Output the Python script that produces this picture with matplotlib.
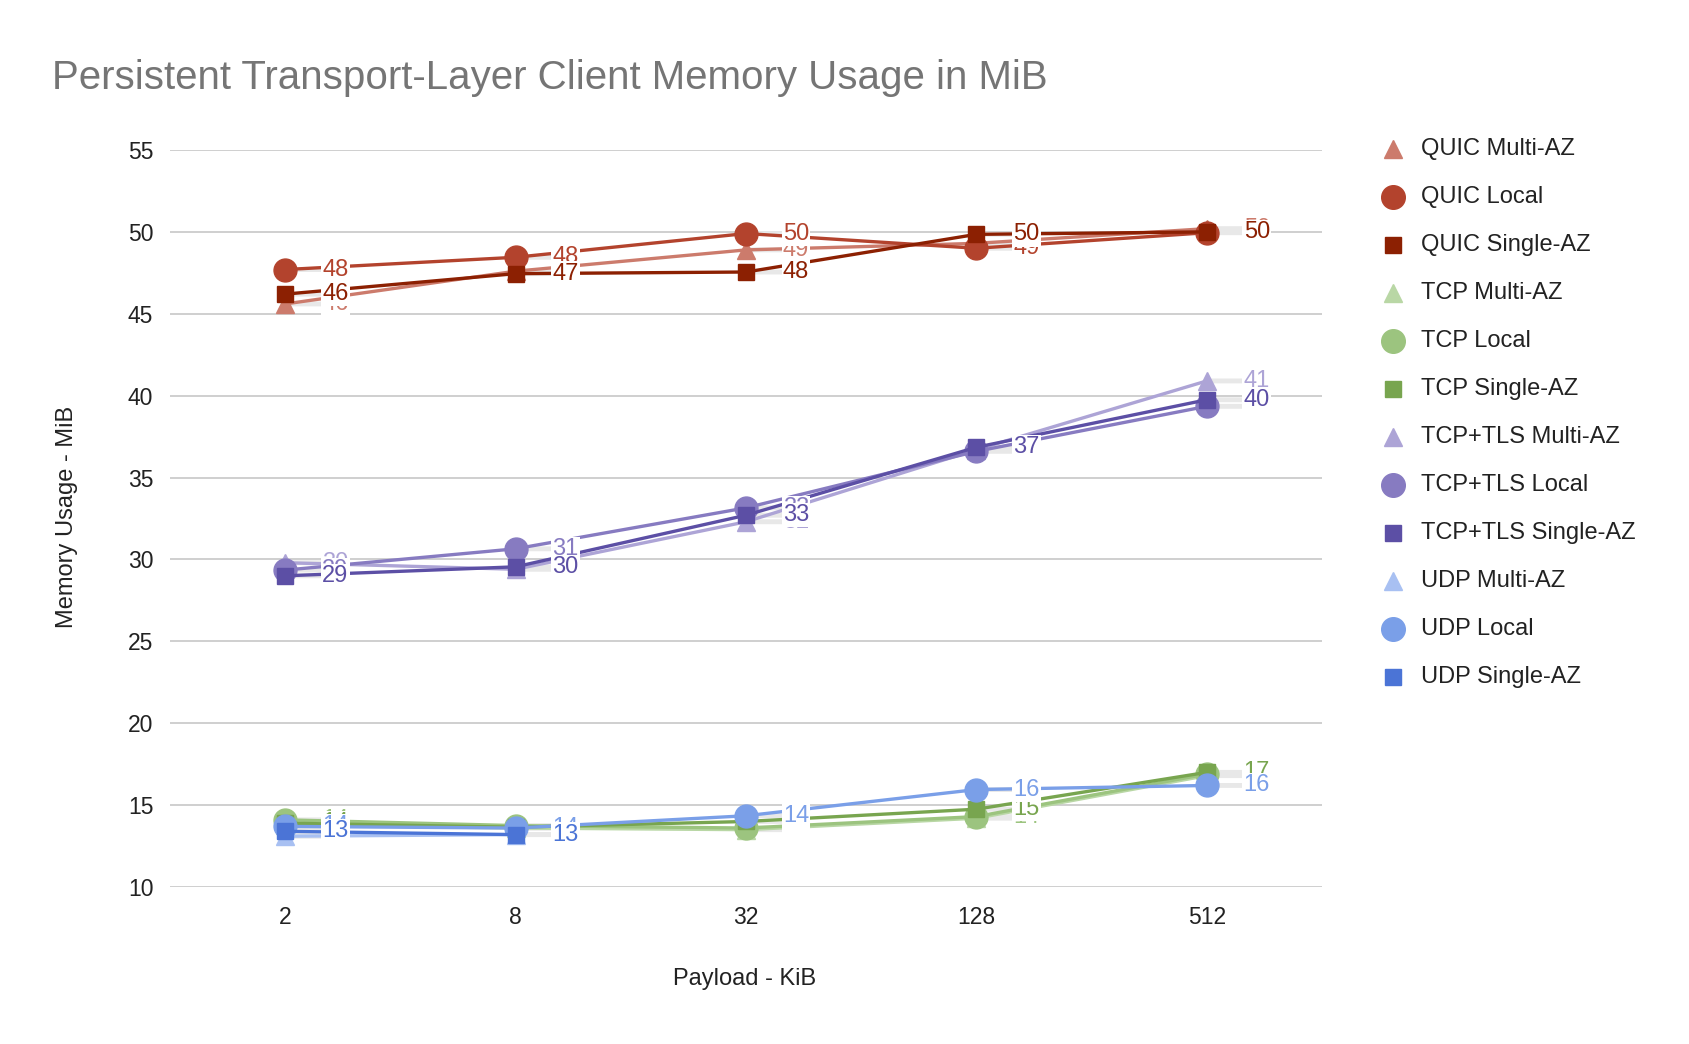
import matplotlib
matplotlib.use("Agg")
import matplotlib.pyplot as plt
from matplotlib.lines import Line2D
import numpy as np

plt.rcParams['font.family'] = ['Liberation Sans', 'DejaVu Sans']

categories = ["2", "8", "32", "128", "512"]

quic_multi = [45.6, 47.6, 48.9, 49.3, 50.2]
quic_local = [47.7, 48.45, 49.9, 49.0, 49.95]
quic_single = [46.2, 47.45, 47.55, 49.85, 50.0]
tcp_multi = [13.8, 13.6, 13.5, 14.2, 16.8]
tcp_local = [14.1, 13.75, 13.6, 14.3, 16.9]
tcp_single = [13.9, 13.65, 14.0, 14.75, 17.0]
tls_multi = [29.8, 29.4, 32.3, 36.7, 40.9]
tls_local = [29.35, 30.65, 33.15, 36.6, 39.35]
tls_single = [29.0, 29.55, 32.7, 36.85, 39.75]
udp_multi = [13.1, 13.2, None, None, None]
udp_local = [13.7, 13.6, 14.35, 15.95, 16.2]
udp_single = [13.4, 13.2, None, None, None]

series_names = ["QUIC Multi-AZ", "QUIC Local", "QUIC Single-AZ",
                "TCP Multi-AZ", "TCP Local", "TCP Single-AZ",
                "TCP+TLS Multi-AZ", "TCP+TLS Local", "TCP+TLS Single-AZ",
                "UDP Multi-AZ", "UDP Local", "UDP Single-AZ"]
series_values = [quic_multi, quic_local, quic_single,
                 tcp_multi, tcp_local, tcp_single,
                 tls_multi, tls_local, tls_single,
                 udp_multi, udp_local, udp_single]
colors = ["#cc7b6c", "#b3432d", "#8c2002",
          "#b9d7a5", "#9cc47f", "#78a54f",
          "#ada4d6", "#877bc1", "#5c4fa5",
          "#a8c0f2", "#7a9fe8", "#4b74d6"]
markers = ["^", "o", "s"] * 4
msizes = {"^": 12.5, "o": 16.5, "s": 11.5}

fig = plt.figure(figsize=(16.9, 10.44), dpi=100)
ax = fig.add_axes([170 / 1690, 1 - 887 / 1044, (1322 - 170) / 1690, (887 - 150) / 1044])

x = list(range(len(categories)))

# faint leader lines beneath everything
for vals in series_values:
    for xi, v in zip(x, vals):
        if v is None:
            continue
        ax.annotate("", xy=(xi, v), xytext=(38, 0), textcoords='offset pixels', zorder=2,
                    arrowprops=dict(arrowstyle='-', color='#e8e8e8', lw=3.5, shrinkA=0, shrinkB=0))

for i, (name, vals, c, m) in enumerate(zip(series_names, series_values, colors, markers)):
    yv = np.array([np.nan if v is None else v for v in vals], dtype=float)
    ax.plot(x, yv, color=c, lw=2.4, marker=m, ms=msizes[m], mec=c, mfc=c, zorder=3 + i * 0.01,
            solid_capstyle='round')

for i, (vals, c) in enumerate(zip(series_values, colors)):
    for xi, v in zip(x, vals):
        if v is None:
            continue
        ax.annotate(f"{round(v)}", xy=(xi, v), xytext=(50, 0), textcoords='offset pixels',
                    ha='center', va='center', fontsize=17, color=c, zorder=10 + i * 0.1,
                    bbox=dict(boxstyle='square,pad=0.05', fc='white', ec='none'))

ax.set_xlim(-0.5, 4.5)
ax.set_ylim(10, 55)
ax.set_yticks(range(10, 56, 5))
ax.set_xticks(x)
ax.set_xticklabels(categories)
ax.tick_params(axis='both', length=0, labelsize=16.5, colors='#222222')
ax.tick_params(axis='y', pad=12)
ax.tick_params(axis='x', pad=14)
ax.grid(axis='y', color='#cccccc', lw=1.3)
ax.set_axisbelow(True)
for s in ax.spines.values():
    s.set_visible(False)

fig.text(52 / 1690, 1 - 78 / 1044, "Persistent Transport-Layer Client Memory Usage in MiB",
         fontsize=29, color='#757575', va='center', ha='left')
fig.text(67 / 1690, 1 - 517 / 1044, "Memory Usage - MiB", rotation=90, fontsize=17,
         color='#222222', va='center', ha='center')
fig.text(745 / 1690, 1 - 979 / 1044, "Payload - KiB", fontsize=17, color='#222222',
         va='center', ha='center')

# legend
lx_marker = 1393 / 1690
lx_text = 1421 / 1690
y0 = 149
dy = 48
leg_ms = {"^": 13, "o": 17, "s": 12}
for i, (name, c, m) in enumerate(zip(series_names, colors, markers)):
    yy = 1 - (y0 + i * dy) / 1044
    fig.add_artist(Line2D([lx_marker], [yy], transform=fig.transFigure, marker=m,
                          ms=leg_ms[m], color=c, mec=c, mfc=c, ls='none'))
    fig.text(lx_text, yy, name, fontsize=17, color='#222222', va='center', ha='left')

fig.savefig("out.png", dpi=100, facecolor='white')
